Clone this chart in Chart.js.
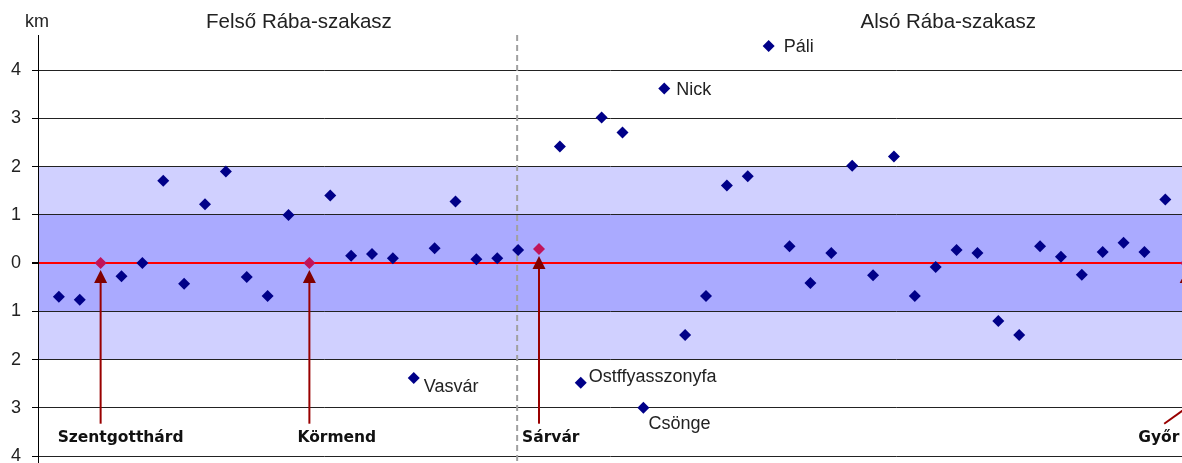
<!DOCTYPE html>
<html>
<head>
<meta charset="utf-8">
<script src="https://cdn.jsdelivr.net/npm/chart.js@4.4.1/dist/chart.umd.min.js"></script>
<style>
  html, body { margin: 0; padding: 0; background: #fff; }
</style>
</head>
<body>
<canvas id="chart" width="1182" height="463"></canvas>
<script>
// deviation (km) for each measuring point along the river, in order
const deviations = [-0.70, -0.76, 0, -0.27, 0, 1.71, -0.43, 1.22, 1.90, -0.29,
  -0.68, 1.00, 0, 1.40, 0.15, 0.19, 0.10, -2.38, 0.31, 1.28,
  0.08, 0.10, 0.27, 0.29, 2.42, -2.48, 3.02, 2.71, -3.00, 3.62,
  -1.49, -0.68, 1.61, 1.80, 4.50, 0.35, -0.41, 0.21, 2.02, -0.25,
  2.21, -0.68, -0.08, 0.27, 0.21, -1.20, -1.49, 0.35, 0.13, -0.24,
  0.23, 0.42, 0.23, 1.32, 0];

// towns marked with arrows
const stationIdx = [2, 12, 23, 54];
const stationNames = ['Szentgotthárd', 'Körmend', 'Sárvár', 'Győr'];

// outliers with a name next to them
const namedIdx = [17, 25, 28, 29, 34];
const namedNames = ['Vasvár', 'Ostffyasszonyfa', 'Csönge', 'Nick', 'Páli'];

const sectionNames = ['Felső Rába-szakasz', 'Alsó Rába-szakasz'];
const sectionBoundary = 22;
const innerBand = 1;
const outerBand = 2;
const yTicks = [-4, -3, -2, -1, 0, 1, 2, 3, 4];

const blueData = [];
const stationData = [];
deviations.forEach((v, i) => {
  if (stationIdx.includes(i)) stationData.push({ x: i, y: v });
  else blueData.push({ x: i, y: v });
});

const FONT = "'Liberation Sans', Arial, sans-serif";

const riverPlugin = {
  id: 'river',
  beforeDraw(chart) {
    const { ctx, chartArea: a } = chart;
    const y = chart.scales.y;
    ctx.save();
    ctx.fillStyle = '#d0d0ff';
    ctx.fillRect(a.left, y.getPixelForValue(outerBand), a.right - a.left,
      y.getPixelForValue(-outerBand) - y.getPixelForValue(outerBand));
    ctx.fillStyle = '#aaaaff';
    ctx.fillRect(a.left, y.getPixelForValue(innerBand), a.right - a.left,
      y.getPixelForValue(-innerBand) - y.getPixelForValue(innerBand));
    ctx.restore();
  },
  beforeDatasetsDraw(chart) {
    const { ctx, chartArea: a } = chart;
    const x = chart.scales.x.getPixelForValue(sectionBoundary) - 1;
    ctx.save();
    ctx.strokeStyle = '#a0a0a0';
    ctx.lineWidth = 2;
    ctx.setLineDash([6, 4]);
    ctx.beginPath();
    ctx.moveTo(x, a.top);
    ctx.lineTo(x, a.bottom);
    ctx.stroke();
    ctx.restore();
  },
  afterDatasetsDraw(chart) {
    const { ctx } = chart;
    const xs = chart.scales.x, ys = chart.scales.y;
    ctx.save();

    // arrows + bold town names
    const textDx = [-43, -12, -17, -48];
    const arrowBottom = ys.getPixelForValue(-3.33);
    const textY = ys.getPixelForValue(-3.63);
    stationIdx.forEach((idx, k) => {
      const x = xs.getPixelForValue(idx);
      const py = ys.getPixelForValue(deviations[idx]);
      ctx.strokeStyle = '#990000';
      ctx.fillStyle = '#800000';
      ctx.lineWidth = 2;
      ctx.beginPath();
      if (k === stationIdx.length - 1) {
        ctx.moveTo(x - 22, arrowBottom);
        ctx.lineTo(x + 20, arrowBottom - 30);
      } else {
        ctx.moveTo(x, arrowBottom);
        ctx.lineTo(x, py + 19);
      }
      ctx.stroke();
      ctx.beginPath();
      ctx.moveTo(x, py + 7);
      ctx.lineTo(x - 6.5, py + 20);
      ctx.lineTo(x + 6.5, py + 20);
      ctx.closePath();
      ctx.fill();

      ctx.fillStyle = '#111';
      ctx.font = "bold 15.5px 'DejaVu Sans', Verdana, sans-serif";
      ctx.textAlign = 'left';
      ctx.textBaseline = 'middle';
      ctx.fillText(stationNames[k], x + textDx[k], textY);
    });

    // names of outliers
    const offs = [[10, 9], [8, -6], [5, 16], [12, 2], [15, 1]];
    ctx.font = '18px ' + FONT;
    ctx.fillStyle = '#222';
    ctx.textAlign = 'left';
    ctx.textBaseline = 'middle';
    namedIdx.forEach((idx, k) => {
      const x = xs.getPixelForValue(idx);
      const y = ys.getPixelForValue(deviations[idx]);
      ctx.fillText(namedNames[k], x + offs[k][0], y + offs[k][1]);
    });
    ctx.restore();
  },
  afterDraw(chart) {
    const { ctx } = chart;
    const xs = chart.scales.x;
    ctx.save();
    ctx.fillStyle = '#222';
    ctx.textBaseline = 'middle';
    ctx.font = '18px ' + FONT;
    ctx.textAlign = 'left';
    ctx.fillText('km', 25, 22);
    ctx.font = '20.5px ' + FONT;
    ctx.textAlign = 'center';
    const centers = [11.5, 42.6];
    sectionNames.forEach((name, k) => {
      ctx.fillText(name, xs.getPixelForValue(centers[k]), 22);
    });
    ctx.restore();
  }
};

new Chart(document.getElementById('chart'), {
  type: 'scatter',
  data: {
    datasets: [{
      data: blueData,
      pointStyle: 'rectRot',
      pointRadius: 6,
      pointHoverRadius: 6,
      backgroundColor: '#000088',
      borderColor: '#000088',
      borderWidth: 0
    }, {
      data: stationData,
      pointStyle: 'rectRot',
      pointRadius: 6,
      pointHoverRadius: 6,
      backgroundColor: '#c0145a',
      borderColor: '#c0145a',
      borderWidth: 0
    }]
  },
  options: {
    responsive: false,
    animation: false,
    layout: { autoPadding: false, padding: { top: 35, left: 0, right: 0, bottom: 0 } },
    plugins: {
      legend: { display: false },
      tooltip: { enabled: false }
    },
    scales: {
      x: {
        type: 'linear',
        min: -1,
        max: 53.8,
        display: false
      },
      y: {
        min: -4.145,
        max: 4.73,
        afterBuildTicks: (s) => { s.ticks = yTicks.map(v => ({ value: v })); },
        afterFit: (s) => {
          s.width = 38;
          s.paddingTop = 0;
          s.paddingBottom = 0;
          s.paddingLeft = 0;
          s.paddingRight = 0;
        },
        ticks: {
          callback: (v) => Math.abs(v),
          color: '#222',
          padding: 11,
          font: { family: FONT, size: 18 }
        },
        grid: {
          color: (c) => c.tick && c.tick.value === 0 ? '#ff0000' : '#222',
          lineWidth: (c) => c.tick && c.tick.value === 0 ? 2 : 1,
          tickColor: '#000',
          tickLength: 6
        },
        border: { color: '#000', width: 1 }
      }
    }
  },
  plugins: [riverPlugin]
});
</script>
</body>
</html>
